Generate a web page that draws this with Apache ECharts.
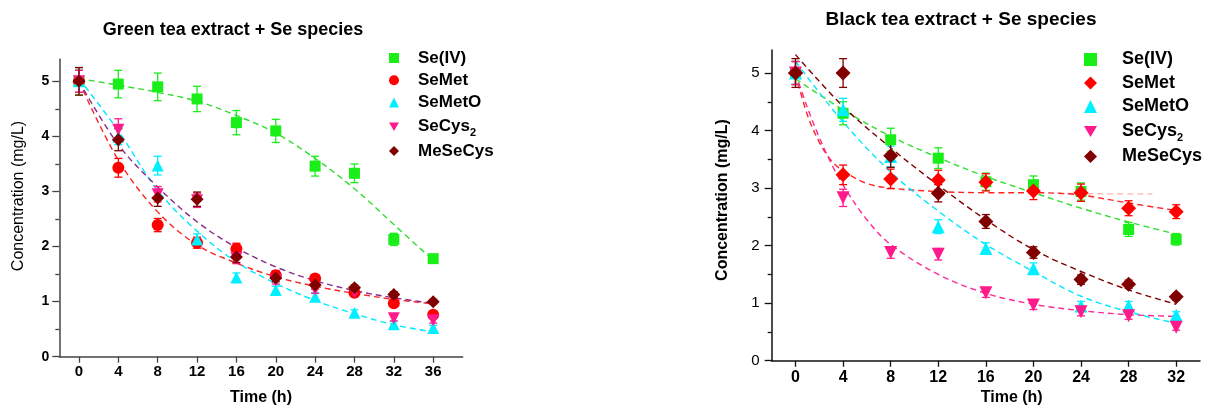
<!DOCTYPE html>
<html>
<head>
<meta charset="utf-8">
<script src="https://cdn.jsdelivr.net/npm/echarts@6/dist/echarts.min.js"></script>
<style>html,body{margin:0;padding:0;background:#fff}#c{width:1205px;height:410px}</style>
</head>
<body>
<div id="c"></div>
<script>
// ---------- DATA ----------
const speciesNames = ['Se(IV)', 'SeMet', 'SeMetO', 'SeCys2', 'MeSeCys'];
const timeTicksGreen = [0, 4, 8, 12, 16, 20, 24, 28, 32, 36];
const timeTicksBlack = [0, 4, 8, 12, 16, 20, 24, 28, 32];
const yTicks = [0, 1, 2, 3, 4, 5];

// Green tea: measured values and error bars
const green_SeIV      = [5.0, 4.95, 4.9, 4.68, 4.25, 4.1, 3.46, 3.33, 2.13, 1.78];
const green_SeIV_err  = [0.25, 0.25, 0.25, 0.23, 0.22, 0.21, 0.18, 0.17, 0.11, 0.06];
const green_SeMet     = [5.0, 3.43, 2.39, 2.07, 1.96, 1.48, 1.42, 1.16, 0.97, 0.76];
const green_SeMet_err = [0.2, 0.17, 0.12, 0.1, 0.1, 0.08, 0.07, 0.06, 0.05, 0.05];
const green_SeMetO    = [5.0, 4.0, 3.47, 2.13, 1.44, 1.21, 1.09, 0.8, 0.59, 0.52];
const green_SeMetO_err= [0.2, 0.15, 0.17, 0.1, 0.08, 0.07, 0.07, 0.05, 0.05, 0.05];
const green_SeCys2    = [5.0, 4.12, 2.95, 2.84, 1.79, 1.39, 1.22, 1.17, 0.7, 0.66];
const green_SeCys2_err= [0.2, 0.2, 0.14, 0.13, 0.1, 0.07, 0.07, 0.05, 0.05, 0.05];
const green_MeSeCys   = [5.0, 3.94, 2.88, 2.86, 1.81, 1.43, 1.3, 1.25, 1.13, 1.0];
const green_MeSeCys_err=[0.25, 0.2, 0.15, 0.13, 0.1, 0.07, 0.07, 0.05, 0.05, 0.04];

// Green tea: fitted curves
const greenFit_SeIV  = [[0,5.05],[4,4.93],[8,4.8],[12,4.64],[16,4.38],[20,4.06],[24,3.6],[28,3.05],[32,2.4],[36,1.75]];
const greenFit_SeMet = [[0,5.0],[4,3.57],[8,2.63],[12,2.03],[16,1.7],[20,1.45],[24,1.28],[28,1.15],[32,1.04],[36,0.96]];
const greenFit_SeMetO= [[0,5.05],[4,4.1],[8,3.02],[12,2.28],[16,1.72],[20,1.33],[24,1.02],[28,0.78],[32,0.58],[36,0.45]];
const greenFit_MeSeCys=[[0,5.0],[4,3.85],[8,3.08],[12,2.45],[16,1.98],[20,1.63],[24,1.38],[28,1.2],[32,1.07],[36,0.97]];

// Black tea: measured values and error bars
const black_SeIV      = [5.0, 4.3, 3.84, 3.52, 3.11, 3.06, 2.94, 2.28, 2.11];
const black_SeIV_err  = [0.2, 0.2, 0.2, 0.18, 0.15, 0.15, 0.15, 0.12, 0.1];
const black_SeMet     = [5.0, 3.23, 3.16, 3.14, 3.1, 2.95, 2.92, 2.65, 2.59];
const black_SeMet_err = [0.2, 0.17, 0.17, 0.17, 0.15, 0.15, 0.15, 0.13, 0.12];
const black_SeMetO    = [5.0, 4.36, 3.55, 2.33, 1.95, 1.6, 0.95, 0.95, 0.79];
const black_SeMetO_err= [0.2, 0.2, 0.18, 0.12, 0.1, 0.1, 0.08, 0.08, 0.06];
const black_SeCys2    = [5.0, 2.83, 1.88, 1.85, 1.18, 0.97, 0.85, 0.78, 0.58];
const black_SeCys2_err= [0.2, 0.15, 0.1, 0.1, 0.08, 0.08, 0.07, 0.06, 0.05];
const black_MeSeCys   = [5.0, 5.0, 3.56, 2.91, 2.42, 1.88, 1.41, 1.33, 1.11];
const black_MeSeCys_err=[0.25, 0.25, 0.2, 0.15, 0.12, 0.1, 0.08, 0.07, 0.06];

// Black tea: fitted curves
const blackFit_SeIV  = [[0,4.9],[4,4.36],[8,3.9],[12,3.53],[16,3.2],[20,2.92],[24,2.65],[28,2.41],[32,2.2]];
const blackFit_SeMet = [[0,5.0],[1,4.27],[2,3.8],[3,3.48],[4,3.3],[6,3.08],[8,3.0],[12,2.94],[16,2.92],[20,2.92],[22,2.91],[24,2.88],[28,2.74],[32,2.61]];
const blackFit_SeMetPlateau = [[22,2.91],[26,2.9],[30,2.9]];
const blackFit_SeMetO= [[0,5.2],[4,4.15],[8,3.28],[12,2.6],[16,2.02],[20,1.55],[24,1.12],[28,0.85],[32,0.65]];
const blackFit_SeCys2= [[0,5.0],[1,4.4],[2,3.88],[3,3.43],[4,3.05],[6,2.45],[8,2.02],[12,1.5],[16,1.17],[20,0.98],[24,0.87],[28,0.8],[32,0.77]];
const blackFit_MeSeCys=[[0,5.32],[4,4.42],[8,3.7],[12,3.05],[16,2.45],[20,1.93],[24,1.55],[28,1.23],[32,0.98]];

// ---------- STYLE ----------
const FONT = '"Liberation Sans", Arial, sans-serif';
const C = {
  green: '#19ee19', red: '#ff0000', cyan: '#00f0ff', pink: '#ff1a8c', dred: '#800000',
  fitGreen: '#33dd33', fitRed: '#ff2222', fitCyan: '#00e8ff', fitPurple: '#8a2a8a', fitPink: '#ff2a95', fitDred: '#800000'
};
const downTri = 'path://M0,0 L20,0 L10,17.3 Z';

function pairs(t, v) { return t.map((x, i) => [x, v[i]]); }
function triples(t, v, e) { return t.map((x, i) => [x, v[i], e[i]]); }

function errRender(params, api) {
  const x = api.value(0), y = api.value(1), e = api.value(2);
  const lo = api.coord([x, y - e]), hi = api.coord([x, y + e]);
  const c = api.visual('color');
  const st = { stroke: c, lineWidth: 1.3 };
  return { type: 'group', children: [
    { type: 'line', shape: { x1: lo[0], y1: lo[1], x2: hi[0], y2: hi[1] }, style: st },
    { type: 'line', shape: { x1: lo[0] - 4, y1: lo[1], x2: lo[0] + 4, y2: lo[1] }, style: st },
    { type: 'line', shape: { x1: hi[0] - 4, y1: hi[1], x2: hi[0] + 4, y2: hi[1] }, style: st }
  ]};
}

function scatter(name, idx, data, color, symbol, size) {
  return { type: 'scatter', name, xAxisIndex: idx, yAxisIndex: idx, data, symbol, symbolSize: size,
    itemStyle: { color, opacity: 1 }, z: 4, silent: true };
}
function errs(name, idx, data, color) {
  return { type: 'custom', name: name + ' err', xAxisIndex: idx, yAxisIndex: idx, data,
    encode: { x: 0, y: 1 }, renderItem: errRender, itemStyle: { color }, z: 3, silent: true };
}
function fit(idx, data, color, opacity) {
  return { type: 'line', xAxisIndex: idx, yAxisIndex: idx, data, smooth: 0.35, symbol: 'none',
    lineStyle: { color, width: 1.4, type: [6, 4], opacity: opacity == null ? 1 : opacity }, z: 2, silent: true };
}

const xAxisCommon = (idx, min, max, ticks, lblSize, margin, lineColor) => ({
  type: 'value', gridIndex: idx, min, max,
  axisLine: { show: true, onZero: false, lineStyle: { color: lineColor, width: 1.5 } },
  axisTick: { show: true, inside: false, length: 6, customValues: ticks, lineStyle: { color: lineColor, width: 1.3 } },
  axisLabel: { customValues: ticks, fontSize: lblSize, fontWeight: 'bold', color: '#000', fontFamily: FONT, margin },
  splitLine: { show: false }
});
const yAxisCommon = (idx, lblSize, weight, margin, lineColor) => ({
  type: 'value', gridIndex: idx, min: 0, max: 5.4, interval: 1,
  axisLine: { show: true, onZero: false, lineStyle: { color: lineColor, width: 1.5 } },
  axisTick: { show: true, inside: false, length: 7, customValues: yTicks, lineStyle: { color: lineColor, width: 1.3 } },
  minorTick: { show: true, splitNumber: 2, length: 4, lineStyle: { color: lineColor, width: 1.3 } },
  axisLabel: { customValues: yTicks, fontSize: lblSize, fontWeight: weight, color: '#000', fontFamily: FONT, margin },
  splitLine: { show: false }, minorSplitLine: { show: false }
});

function legendFor(prefix, left, top, iconSize, fontSize, lineH, gap, gapW, items) {
  return {
    orient: 'vertical', left, top, itemWidth: iconSize, itemHeight: iconSize, itemGap: gap, padding: 0,
    selectedMode: false,
    data: items,
    formatter: (n) => { const s = n.replace(prefix, ''); return '{g|}' + (s === 'SeCys2' ? 'SeCys{sub|2}' : s); },
    textStyle: { fontSize, fontWeight: 'bold', fontFamily: FONT, color: '#000', lineHeight: lineH,
      rich: { g: { width: gapW, lineHeight: lineH }, sub: { fontSize: 11, fontWeight: 'bold', fontFamily: FONT, lineHeight: 11, padding: [13, 0, 0, 0] } } }
  };
}

const tG = timeTicksGreen, tB = timeTicksBlack;
const series = [
  // left fits
  fit(0, greenFit_SeIV, C.fitGreen), fit(0, greenFit_SeMet, C.fitRed), fit(0, greenFit_SeMetO, C.fitCyan), fit(0, greenFit_MeSeCys, C.fitPurple),
  // left error bars
  errs('Se(IV)', 0, triples(tG, green_SeIV, green_SeIV_err), C.green),
  errs('SeMet', 0, triples(tG, green_SeMet, green_SeMet_err), C.red),
  errs('SeMetO', 0, triples(tG, green_SeMetO, green_SeMetO_err), C.cyan),
  errs('SeCys2', 0, triples(tG, green_SeCys2, green_SeCys2_err), C.pink),
  errs('MeSeCys', 0, triples(tG, green_MeSeCys, green_MeSeCys_err), C.dred),
  // left markers
  scatter('Se(IV)', 0, pairs(tG, green_SeIV), C.green, 'rect', 11),
  scatter('SeMet', 0, pairs(tG, green_SeMet), C.red, 'circle', 12),
  scatter('SeMetO', 0, pairs(tG, green_SeMetO), C.cyan, 'triangle', 12),
  scatter('SeCys2', 0, pairs(tG, green_SeCys2), C.pink, downTri, 12),
  scatter('MeSeCys', 0, pairs(tG, green_MeSeCys), C.dred, 'diamond', 13),
  // right fits
  fit(1, blackFit_SeIV, C.fitGreen), fit(1, blackFit_SeMetPlateau, '#ff8080', 0.6), fit(1, blackFit_SeMet, C.fitRed),
  fit(1, blackFit_SeMetO, C.fitCyan), fit(1, blackFit_SeCys2, C.fitPink), fit(1, blackFit_MeSeCys, C.fitDred),
  // right error bars
  errs('b_Se(IV)', 1, triples(tB, black_SeIV, black_SeIV_err), C.green),
  errs('b_SeMet', 1, triples(tB, black_SeMet, black_SeMet_err), C.red),
  errs('b_SeMetO', 1, triples(tB, black_SeMetO, black_SeMetO_err), C.cyan),
  errs('b_SeCys2', 1, triples(tB, black_SeCys2, black_SeCys2_err), C.pink),
  errs('b_MeSeCys', 1, triples(tB, black_MeSeCys, black_MeSeCys_err), C.dred),
  // right markers
  scatter('b_Se(IV)', 1, pairs(tB, black_SeIV), C.green, 'rect', 11),
  scatter('b_SeMet', 1, pairs(tB, black_SeMet), C.red, 'diamond', 15),
  scatter('b_SeMetO', 1, pairs(tB, black_SeMetO), C.cyan, 'triangle', 13),
  scatter('b_SeCys2', 1, pairs(tB, black_SeCys2), C.pink, downTri, 13),
  scatter('b_MeSeCys', 1, pairs(tB, black_MeSeCys), C.dred, 'diamond', 15)
];

const leftLegendItems = [
  { name: 'Se(IV)', icon: 'rect', itemStyle: { color: C.green } },
  { name: 'SeMet', icon: 'circle', itemStyle: { color: C.red } },
  { name: 'SeMetO', icon: 'triangle', itemStyle: { color: C.cyan } },
  { name: 'SeCys2', icon: downTri, itemStyle: { color: C.pink } },
  { name: 'MeSeCys', icon: 'diamond', itemStyle: { color: C.dred } }
];
const rightLegendItems = [
  { name: 'b_Se(IV)', icon: 'rect', itemStyle: { color: C.green } },
  { name: 'b_SeMet', icon: 'diamond', itemStyle: { color: C.red } },
  { name: 'b_SeMetO', icon: 'triangle', itemStyle: { color: C.cyan } },
  { name: 'b_SeCys2', icon: downTri, itemStyle: { color: C.pink } },
  { name: 'b_MeSeCys', icon: 'diamond', itemStyle: { color: C.dred } }
];

const option = {
  animation: false,
  backgroundColor: '#fff',
  grid: [
    { left: 59.3, top: 59.3, width: 403.4, height: 297.4 },
    { left: 771.7, top: 50, width: 428.3, height: 310.7 }
  ],
  xAxis: [
    xAxisCommon(0, -2, 39, timeTicksGreen, 15, 8, '#444'),
    xAxisCommon(1, -2, 34, timeTicksBlack, 16, 9, '#111')
  ],
  yAxis: [
    yAxisCommon(0, 14, 'bold', 10, '#444'),
    yAxisCommon(1, 15, 'normal', 12, '#111')
  ],
  legend: [
    legendFor('', 389, 48, 10, 17, 20, 2.25, 14, leftLegendItems),
    legendFor('b_', 1084, 49, 13, 18, 21, 2.5, 20, rightLegendItems)
  ],
  graphic: [
    { type: 'text', x: 233, y: 30, style: { text: 'Green tea extract + Se species', font: 'bold 18px ' + FONT, fill: '#000', align: 'center', verticalAlign: 'middle' } },
    { type: 'text', x: 961, y: 20, style: { text: 'Black tea extract + Se species', font: 'bold 19px ' + FONT, fill: '#000', align: 'center', verticalAlign: 'middle' } },
    { type: 'text', x: 19, y: 196, rotation: Math.PI / 2, style: { text: 'Concentration (mg/L)', font: '16px ' + FONT, fill: '#000', align: 'center', verticalAlign: 'middle' } },
    { type: 'text', x: 723, y: 200, rotation: Math.PI / 2, style: { text: 'Concentration (mg/L)', font: 'bold 16px ' + FONT, fill: '#000', align: 'center', verticalAlign: 'middle' } },
    { type: 'text', x: 261, y: 398, style: { text: 'Time (h)', font: 'bold 16px ' + FONT, fill: '#000', align: 'center', verticalAlign: 'middle' } },
    { type: 'text', x: 1011.7, y: 398, style: { text: 'Time (h)', font: 'bold 16px ' + FONT, fill: '#000', align: 'center', verticalAlign: 'middle' } }
  ],
  series
};

const chart = echarts.init(document.getElementById('c'), null, { renderer: 'canvas' });
chart.setOption(option);
</script>
</body>
</html>
